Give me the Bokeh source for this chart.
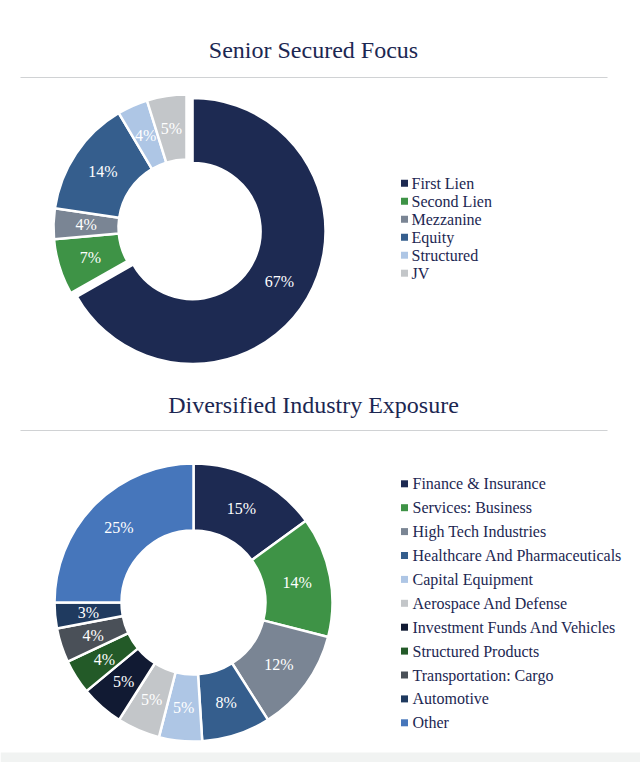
import math
from bokeh.plotting import figure
from bokeh.models import Range1d
from bokeh.core.properties import value
from bokeh.embed import file_html
from bokeh.resources import INLINE

# ---------------- data ----------------
title_top = "Senior Secured Focus"
cats_top = ["First Lien", "Second Lien", "Mezzanine", "Equity", "Structured", "JV"]
vals_top = [66.8, 6.8, 3.7, 14.2, 3.7, 4.8]
cols_top = ["#1d2a52", "#3e9346", "#7a8594", "#355e8d", "#aec6e5", "#c3c6c9"]

title_bot = "Diversified Industry Exposure"
cats_bot = ["Finance & Insurance", "Services: Business", "High Tech Industries",
            "Healthcare And Pharmaceuticals", "Capital Equipment",
            "Aerospace And Defense", "Investment Funds And Vehicles",
            "Structured Products", "Transportation: Cargo", "Automotive", "Other"]
vals_bot = [15, 14, 12, 8, 5, 5, 5, 4, 4, 3, 25]
cols_bot = ["#1d2a52", "#3e9346", "#7a8594", "#355e8d", "#aec6e5", "#c3c6c9",
            "#111a33", "#235a28", "#4a5058", "#1f3a5f", "#4676bb"]

# ---------------- layout ----------------
W, H = 640, 762
FONT = value("Liberation Serif")
NAVY = "#1c2752"


def Y(ref_y):
    # reference pixel row -> data y (y up)
    return H - ref_y


p = figure(width=W, height=H, output_backend="svg", toolbar_location=None,
           x_range=Range1d(0, W), y_range=Range1d(0, H),
           x_axis_location=None, y_axis_location=None, min_border=0,
           outline_line_color=None, background_fill_color="white",
           border_fill_color="white")
p.grid.visible = False

# bottom grey strip of the page
p.quad(left=[0], right=[W], bottom=[0], top=[Y(752)], fill_color="#f1f3f2",
       line_color=None)


def donut(vals, cols, cx, cy, r_in, r_out, explode_idx=None, explode=0):
    total = float(sum(vals))
    cum = 0.0
    xs, ys, starts, ends = [], [], [], []
    lx, ly, labels = [], [], []
    for i, v in enumerate(vals):
        a0 = cum / total * 2 * math.pi
        cum += v
        a1 = cum / total * 2 * math.pi
        mid = (a0 + a1) / 2
        dx = math.sin(mid)
        dy = math.cos(mid)
        off = explode if i == explode_idx else 0
        ox, oy = cx + off * dx, cy + off * dy
        xs.append(ox)
        ys.append(oy)
        starts.append(math.pi / 2 - a0)
        ends.append(math.pi / 2 - a1)
        rm = (r_in + r_out) / 2
        lx.append(ox + rm * dx)
        ly.append(oy + rm * dy)
        labels.append(f"{round(v)}%")
    p.annular_wedge(x=xs, y=ys, inner_radius=r_in, outer_radius=r_out,
                    start_angle=starts, end_angle=ends, direction="clock",
                    fill_color=cols, line_color="white", line_width=2.5)
    p.text(x=lx, y=ly, text=labels, text_font=FONT, text_font_size="16px",
           text_color="white", text_align="center", text_baseline="middle")


def legend(cats, cols, x_sq, x_txt, y0, step):
    ys = [Y(y0 + i * step) for i in range(len(cats))]
    p.scatter(x=[x_sq] * len(cats), y=ys, marker="square", size=7,
              fill_color=cols, line_color=None)
    p.text(x=[x_txt] * len(cats), y=ys, text=cats, text_font=FONT,
           text_font_size="16px", text_color=NAVY, text_align="left",
           text_baseline="middle")


def header(text, y_text, y_line):
    p.text(x=[313], y=[Y(y_text)], text=[text], text_font=FONT,
           text_font_size="24px", text_color=NAVY, text_align="center",
           text_baseline="middle")
    p.segment(x0=[20], x1=[607], y0=[Y(y_line)], y1=[Y(y_line)],
              line_color="#d0d2d4", line_width=1.2)


header(title_top, 49, 77)
donut(vals_top, cols_top, 186, Y(227), 68, 133, explode_idx=0, explode=7)
legend(cats_top, cols_top, 404, 411, 182.7, 18.0)

header(title_bot, 404, 430)
donut(vals_bot, cols_bot, 193, Y(602), 72, 139)
legend(cats_bot, cols_bot, 404, 412, 483.3, 23.9)

open("out.html", "w").write(file_html(p, INLINE))
